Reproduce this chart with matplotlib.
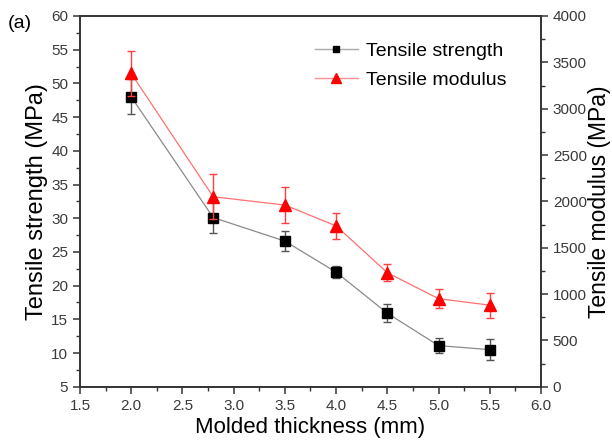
import matplotlib
matplotlib.use('Agg')
import matplotlib.pyplot as plt
from matplotlib.lines import Line2D
from matplotlib.ticker import MultipleLocator

plt.rcParams['font.family'] = ['Liberation Sans', 'DejaVu Sans']

thickness = [2.0, 2.8, 3.5, 4.0, 4.5, 5.0, 5.5]
strength = [48.0, 30.1, 26.6, 22.0, 15.9, 11.1, 10.5]
strength_err = [2.6, 2.3, 1.5, 0.9, 1.3, 1.1, 1.6]
modulus = [3380, 2050, 1960, 1735, 1230, 950, 880]
modulus_err = [240, 240, 190, 140, 90, 100, 135]

xticks = [1.5, 2.0, 2.5, 3.0, 3.5, 4.0, 4.5, 5.0, 5.5, 6.0]

fig = plt.figure(figsize=(6.12, 4.48), dpi=100)
ax = fig.add_axes([0.1307, 0.1368, 0.7533, 0.8275])
ax2 = ax.twinx()

spine_col = '#333333'
ax.errorbar(thickness, strength, yerr=strength_err, color='#8a8a8a', lw=0.9,
            marker='s', ms=6.5, mfc='black', mec='black', ecolor='#555555',
            elinewidth=1, capsize=3, capthick=1, zorder=3)
ax2.errorbar(thickness, modulus, yerr=modulus_err, color='#ff7070', lw=0.9,
             marker='^', ms=8.5, mfc='red', mec='red', ecolor='#ff4040',
             elinewidth=1, capsize=3, capthick=1, zorder=3)

ax.set_xlim(1.5, 6.0)
ax.set_ylim(5, 60)
ax2.set_ylim(0, 4000)
ax.set_xticks(xticks)
ax.set_xticklabels([f'{v:.1f}' for v in xticks])
ax.xaxis.set_minor_locator(MultipleLocator(0.25))
ax.yaxis.set_major_locator(MultipleLocator(5))
ax.yaxis.set_minor_locator(MultipleLocator(2.5))
ax2.yaxis.set_major_locator(MultipleLocator(500))
ax2.yaxis.set_minor_locator(MultipleLocator(250))

for a in (ax, ax2):
    for s in a.spines.values():
        s.set_color(spine_col)
        s.set_linewidth(1.2)
    a.tick_params(which='major', direction='out', length=5, width=1.1,
                  color=spine_col, labelsize=11, labelcolor='#3a3a3a')
    a.tick_params(which='minor', direction='out', length=3, width=1, color=spine_col)
ax.tick_params(which='both', top=False, right=False)
ax2.tick_params(which='both', left=False)

ax.set_xlabel('Molded thickness (mm)', fontsize=16, labelpad=3)
ax.set_ylabel('Tensile strength (MPa)', fontsize=17, labelpad=2)
ax2.set_ylabel('Tensile modulus (MPa)', fontsize=16.5, labelpad=1)

fig.text(0.012, 0.938, '(a)', fontsize=14)

handles = [
    Line2D([], [], color='#aaaaaa', lw=1, marker='s', ms=5, mfc='black', mec='black'),
    Line2D([], [], color='#ff9090', lw=1, marker='^', ms=7, mfc='red', mec='red'),
]
ax2.legend(handles, ['Tensile strength', 'Tensile modulus'], loc='upper left',
           bbox_to_anchor=(315 / 612, 1 - 42 / 448), bbox_transform=fig.transFigure,
           frameon=False, fontsize=14, handlelength=2.2, handletextpad=0.4,
           labelspacing=0.6, borderpad=0, borderaxespad=0)

fig.savefig('out.png', dpi=100)
